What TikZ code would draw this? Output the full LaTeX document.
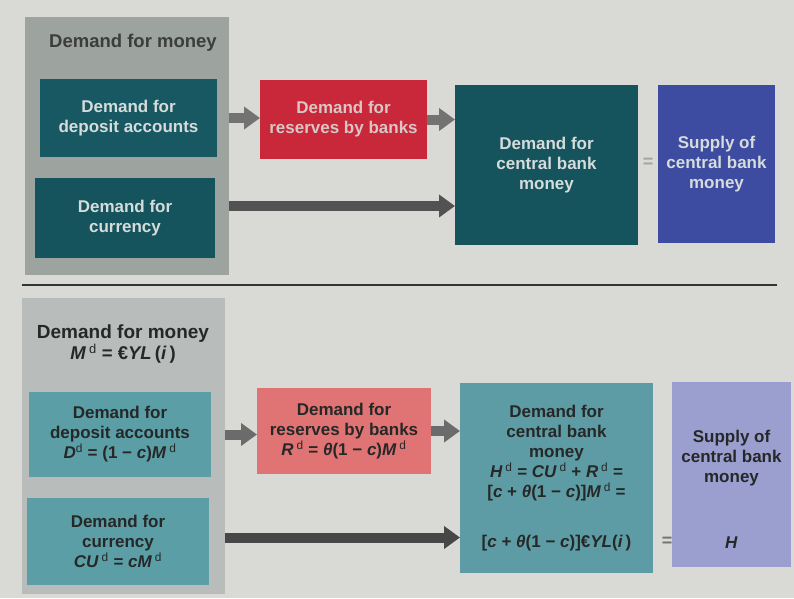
\documentclass[tikz,border=0pt]{standalone}
\usepackage{fontspec}
\setmainfont{Liberation Sans}
\usetikzlibrary{arrows.meta}

\definecolor{pagebg}{HTML}{D9D9D5}
\definecolor{topgray}{HTML}{9DA39E}
\definecolor{topteal}{HTML}{175862}
\definecolor{topred}{HTML}{C8283A}
\definecolor{topblue}{HTML}{3D4BA0}
\definecolor{botgray}{HTML}{B8BDBC}
\definecolor{botteal}{HTML}{5B9EA6}
\definecolor{botred}{HTML}{E07474}
\definecolor{botblue}{HTML}{9A9FCF}
\definecolor{lighttext}{HTML}{D5DCDB}
\definecolor{darktext}{HTML}{262828}

\newcommand{\mvar}[1]{\textit{#1}}
\newcommand{\dsup}{\textsuperscript{\mdseries\upshape d}}

\begin{document}
\begin{tikzpicture}
	[x=1pt, y=-1pt,
	box/.style = {shape=rectangle, inner sep=0pt, outer sep=0pt, align=center,
		font=\fontsize{17}{20}\selectfont\bfseries},
	topbox/.style = {box, fill=#1, text=lighttext},
	botbox/.style = {box, fill=#1, text=darktext},
	title/.style = {inner sep=0pt, align=center, text=#1,
		font=\fontsize{18.5}{21}\selectfont\bfseries},
	eqsign/.style = {inner sep=0pt, font=\fontsize{18}{20}\selectfont\bfseries, text=#1},
	arrowbar/.style = {draw=#1, line width=10pt, -{Triangle[length=16pt,width=22pt]}}]
	% page
	\fill[pagebg] (0,0) rectangle (794,598);
	\useasboundingbox (0,0) rectangle (794,598);

	% upper diagram
	\node[box, fill=topgray, minimum width=204pt, minimum height=258pt] (demo) at (127,146) {};
	\node[title=darktext!90, anchor=west] (demotitle) at (49,43) {Demand for money};
	\node[topbox=topteal, minimum width=177pt, minimum height=78pt] (dep) at (128.5,118)
		{Demand for\\deposit accounts};
	\node[topbox=topteal!95!black, minimum width=180pt, minimum height=80pt] (cur) at (125,218)
		{Demand for\\currency};
	\node[topbox=topred, minimum width=167pt, minimum height=79pt, text=red!10!lighttext] (res) at (343.5,119.5)
		{Demand for\\reserves by banks};
	\node[topbox=topteal!95!black, minimum width=183pt, minimum height=160pt] (cbm) at (546.5,165)
		{Demand for\\central bank\\money};
	\node[topbox=topblue, minimum width=117pt, minimum height=158pt] (sup) at (716.5,164)
		{Supply of\\central bank\\money};
	\node[eqsign=lighttext!75!black] (eq) at (648,163) {=};

	\draw[arrowbar=black!55] (dep.east -| demo.east) -- (dep.east -| res.west);
	\draw[arrowbar=black!55] (res.east) -- (res.east -| cbm.west);
	\coordinate (curout) at ([yshift=12pt]cur.east);
	\draw[arrowbar=black!68] (curout -| demo.east) -- (curout -| cbm.west);

	% separating rule
	\draw[line width=1.6pt, black!80] (22,285) -- (777,285);

	% lower diagram
	\node[box, fill=botgray, minimum width=203pt, minimum height=296pt] (bdemo) at (123.5,446) {};
	\node[title=darktext] (bdemotitle) at (123,344)
		{\fontsize{19}{21}\selectfont Demand for money\\\mvar{M}\,\dsup\ = €\mvar{YL}\,(\mvar{i}\,)};
	\node[botbox=botteal, minimum width=182pt, minimum height=85pt] (bdep) at (120,434.5)
		{Demand for\\deposit accounts\\\mvar{D}\dsup\ = (1 − \mvar{c})\mvar{M}\,\dsup};
	\node[botbox=botteal, minimum width=182pt, minimum height=87pt] (bcur) at (118,541.5)
		{Demand for\\currency\\\mvar{CU}\,\dsup\ = \mvar{cM}\,\dsup};
	\node[botbox=botred, minimum width=174pt, minimum height=86pt] (bres) at (344,431)
		{Demand for\\reserves by banks\\\mvar{R}\,\dsup\ = \mvar{θ}(1 − \mvar{c})\mvar{M}\,\dsup};
	\node[botbox=botteal!95!gray, minimum width=193pt, minimum height=190pt] (bcbm) at (556.5,478)
		{Demand for\\central bank\\money\\
		\mvar{H}\,\dsup\ = \mvar{CU}\,\dsup\ + \mvar{R}\,\dsup\ =\\
		{[}\mvar{c} + \mvar{θ}(1 − \mvar{c})]\mvar{M}\,\dsup\ =\\[30pt]
		{[}\mvar{c} + \mvar{θ}(1 − \mvar{c})]€\mvar{YL}(\mvar{i}\,)};
	\node[botbox=botblue, minimum width=119pt, minimum height=185pt] (bsup) at (731.5,474.5)
		{\mbox{}\\[22pt]Supply of\\central bank\\money\\[46pt]\mvar{H}};
	\node[eqsign=darktext!65] (beq) at (667,542) {=};

	\draw[arrowbar=black!58] (bdep.east -| bdemo.east) -- (bdep.east -| bres.west);
	\draw[arrowbar=black!58] (bres.east) -- (bres.east -| bcbm.west);
	\coordinate (bcurout) at ([yshift=4pt]bcur.east);
	\draw[arrowbar=black!72] (bcurout -| bdemo.east) -- (bcurout -| bcbm.west);
\end{tikzpicture}
\end{document}
